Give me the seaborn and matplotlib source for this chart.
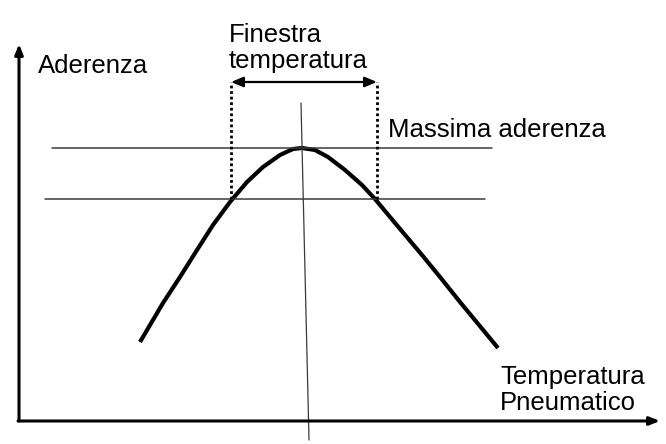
import matplotlib
matplotlib.use("Agg")
import matplotlib.pyplot as plt
import seaborn as sns
import pandas as pd

# Curve of grip vs tyre temperature (schematic)
temperatura = [121, 144, 161, 178, 194, 211, 228, 244, 261, 274, 283,
               296, 309, 326, 343, 356, 376, 403, 421, 441, 460, 479]
aderenza = [79, 118, 144, 171, 196, 219, 239, 254, 266, 272, 273,
            271, 264, 251, 236, 222, 198, 166, 144, 119, 96, 73]

# reference levels
livello_massimo = 273
livello_finestra = 222
finestra_min = 212
finestra_max = 358
picco_x = [282, 290]
picco_y = [318, -19]

etichetta_y = "Aderenza"
etichetta_x = "Temperatura\nPneumatico"
etichetta_finestra = "Finestra\ntemperatura"
etichetta_max = "Massima aderenza"

sns.set_theme(style="white")
plt.rcParams['font.family'] = ['Liberation Sans', 'DejaVu Sans']

fig = plt.figure(figsize=(6.66, 4.44), dpi=100)
ax = fig.add_axes([0, 0, 1, 1])
ax.set_xlim(-19, 647)
ax.set_ylim(-23, 421)
ax.axis("off")

df = pd.DataFrame({"temperatura": temperatura, "aderenza": aderenza})
sns.lineplot(data=df, x="temperatura", y="aderenza", ax=ax, color="black",
             linewidth=3.0, sort=False, solid_capstyle="butt", solid_joinstyle="round")

# horizontal reference lines
ax.plot([33, 473], [livello_massimo, livello_massimo], color="#3a3a3a", lw=1.1)
ax.plot([26, 466], [livello_finestra, livello_finestra], color="#3a3a3a", lw=1.1)
# tilted vertical line through the peak
ax.plot(picco_x, picco_y, color="#3a3a3a", lw=0.9)

# dotted window lines
for xv in (finestra_min, finestra_max):
    ax.plot([xv, xv], [livello_finestra, 339], color="black", lw=2.0, linestyle=(0, (1, 1)))
# double arrow
ax.annotate("", xy=(finestra_max, 339), xytext=(finestra_min, 339),
            arrowprops=dict(arrowstyle="<|-|>,head_length=0.6,head_width=0.25",
                            color="black", lw=1.6, shrinkA=0, shrinkB=0))

# axes arrows
ax.annotate("", xy=(0, 377), xytext=(0, 0),
            arrowprops=dict(arrowstyle="-|>,head_length=0.5,head_width=0.2",
                            color="black", lw=2.2, shrinkA=0, shrinkB=0))
ax.annotate("", xy=(641, 0), xytext=(-1, 0),
            arrowprops=dict(arrowstyle="-|>,head_length=0.5,head_width=0.2",
                            color="black", lw=2.2, shrinkA=0, shrinkB=0))

fs = 18.5
ax.text(19, 348, etichetta_y, fontsize=fs, va="baseline", ha="left", color="black")
ax.text(210, 353, etichetta_finestra, fontsize=fs, va="baseline", ha="left",
        color="black", linespacing=1.1)
ax.text(369, 284, etichetta_max, fontsize=fs, va="baseline", ha="left", color="black")
ax.text(481, 11, etichetta_x, fontsize=fs, va="baseline", ha="left",
        color="black", linespacing=1.1)

fig.savefig("out.png", dpi=100, facecolor="white")
